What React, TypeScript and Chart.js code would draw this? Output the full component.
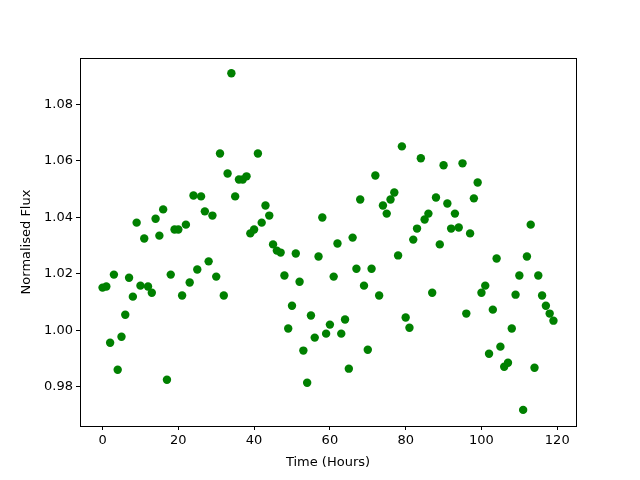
import React, { useEffect, useRef } from "react";
import { Chart, registerables } from "chart.js";

Chart.register(...registerables);

const hours: number[] = Array.from({ length: 120 }, (_, i) => i);
const flux: number[] = [
  1.0151, 1.0155, 0.9956, 1.0197, 0.986, 0.9977, 1.0055, 1.0186, 1.0119, 1.0381,
  1.0158, 1.0325, 1.0155, 1.0133, 1.0395, 1.0335, 1.0428, 0.9825, 1.0197, 1.0357,
  1.0357, 1.0123, 1.0374, 1.0169, 1.0477, 1.0215, 1.0474, 1.0421, 1.0244, 1.0406,
  1.019, 1.0626, 1.0123, 1.0555, 1.091, 1.0474, 1.0534, 1.0534, 1.0545, 1.0343,
  1.0357, 1.0626, 1.0381, 1.0442, 1.0406, 1.0304, 1.0282, 1.0275, 1.0194, 1.0006,
  1.0087, 1.0272, 1.0172, 0.9928, 0.9814, 1.0052, 0.9974, 1.0261, 1.0399, 0.9988,
  1.002, 1.019, 1.0307, 0.9988, 1.0038, 0.9864, 1.0328, 1.0218, 1.0463, 1.0158,
  0.9931, 1.0218, 1.0548, 1.0123, 1.0442, 1.0413, 1.0463, 1.0488, 1.0265, 1.0651,
  1.0045, 1.0009, 1.0321, 1.036, 1.0609, 1.0392, 1.0413, 1.0133, 1.047, 1.0304,
  1.0584, 1.0449, 1.036, 1.0413, 1.0364, 1.0591, 1.0059, 1.0343, 1.0467, 1.0523,
  1.0133, 1.0158, 0.9917, 1.0073, 1.0254, 0.9942, 0.9871, 0.9885, 1.0006, 1.0126,
  1.0194, 0.9718, 1.0261, 1.0374, 0.9867, 1.0194, 1.0123, 1.0087, 1.0059, 1.0034,
];
const xTicks: number[] = [0, 20, 40, 60, 80, 100, 120];
const yTicks: number[] = [0.98, 1.0, 1.02, 1.04, 1.06, 1.08];

const FONT = "'DejaVu Sans', sans-serif";

const framePlugin = {
  id: "frame",
  afterDraw(chart: any) {
    const { ctx, chartArea } = chart;
    ctx.save();
    ctx.strokeStyle = "#000";
    ctx.lineWidth = 1;
    ctx.strokeRect(
      Math.round(chartArea.left) + 0.5,
      Math.round(chartArea.top) + 0.5,
      Math.round(chartArea.right - chartArea.left),
      Math.round(chartArea.bottom - chartArea.top)
    );
    ctx.restore();
  },
};

export default function App() {
  const ref = useRef<HTMLCanvasElement | null>(null);
  useEffect(() => {
    if (!ref.current) return;
    const chart = new Chart(ref.current, {
      type: "scatter",
      data: {
        datasets: [
          {
            data: hours.map((h, i) => ({ x: h, y: flux[i] })),
            backgroundColor: "#008000",
            borderWidth: 0,
            pointRadius: 4.2,
            pointHoverRadius: 4.2,
          },
        ],
      },
      options: {
        animation: false,
        responsive: false,
        devicePixelRatio: 1,
        layout: { padding: { top: 58, right: 64, left: 19, bottom: 10 } },
        plugins: { legend: { display: false }, tooltip: { enabled: false } },
        scales: {
          x: {
            type: "linear",
            min: -5.95,
            max: 124.95,
            afterFit: (s: any) => { s.height = 44; },
            afterBuildTicks: (s: any) => { s.ticks = xTicks.map((v) => ({ value: v })); },
            grid: { drawOnChartArea: false, drawTicks: true, tickLength: 4, color: "#000" },
            border: { display: true, color: "#000" },
            ticks: { color: "#000", font: { family: FONT, size: 13 }, padding: 3, maxRotation: 0, callback: (v: any) => String(v) },
            title: { display: true, text: "Time (Hours)", color: "#000", font: { family: FONT, size: 13 }, padding: { top: 2, bottom: 0 } },
          },
          y: {
            type: "linear",
            min: 0.9661,
            max: 1.0964,
            afterFit: (s: any) => { s.width = 61; },
            afterBuildTicks: (s: any) => { s.ticks = yTicks.map((v) => ({ value: v })); },
            grid: { drawOnChartArea: false, drawTicks: true, tickLength: 4, color: "#000" },
            border: { display: true, color: "#000" },
            ticks: { color: "#000", font: { family: FONT, size: 13 }, padding: 3, callback: (v: any) => Number(v).toFixed(2) },
            title: { display: true, text: "Normalised Flux", color: "#000", font: { family: FONT, size: 13 }, padding: { top: 0, bottom: 4 } },
          },
        },
      },
      plugins: [framePlugin],
    });
    return () => chart.destroy();
  }, []);
  return (
    <div style={{ position: "fixed", left: 0, top: 0, width: 640, height: 480, background: "#fff" }}>
      <canvas ref={ref} width={640} height={480} style={{ width: 640, height: 480 }} />
    </div>
  );
}
